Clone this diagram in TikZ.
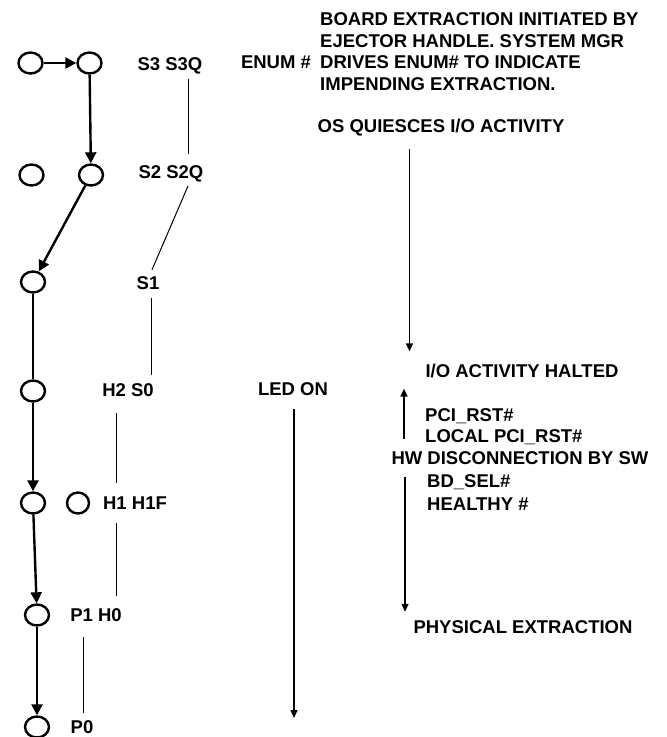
\documentclass[tikz,border=0pt]{standalone}
\usepackage{fontspec}
\setmainfont{Liberation Sans}
\usetikzlibrary{arrows.meta,shapes.geometric}

\begin{document}
\begin{tikzpicture}[x=1pt,y=-1pt,
        state/.style={ellipse,draw,line width=2.4pt,minimum width=24pt,minimum height=21pt,inner sep=0pt},
        spare/.style={state,minimum width=22pt},
        lbl/.style={font=\fontsize{18.5}{21.7}\selectfont\bfseries,inner sep=0pt},
        step edge/.style={-{Triangle[length=11pt,width=11pt]},line width=2.4pt},
        timeline/.style={line width=1pt},
        event/.style={-{Triangle[length=8pt,width=7pt]},line width=1.5pt}]
    \useasboundingbox (0,0) rectangle (667,737);

    % state circles
    \node[state] (s3) at (30.5,63) {};
    \node[state] (s3q) at (89.5,63) {};
    \node[state] (s2) at (31.5,175) {};
    \node[state] (s2q) at (91,175) {};
    \node[state] (s1) at (33,282) {};
    \node[state] (s0) at (33,391) {};
    \node[state] (h1) at (33,503) {};
    \node[spare] (h1f) at (78,503) {};
    \node[state] (h0) at (37,615) {};
    \node[state] (p0) at (37,727) {};

    \path (s3) edge[step edge] (s3q)
          (s3q) edge[step edge] (s2q)
          (s2q) edge[step edge] (s1)
          (s1) edge[line width=2.4pt] (s0)
          (s0) edge[step edge] (h1)
          (h1) edge[step edge] (h0)
          (h0) edge[step edge] (p0);

    % state names
    \node[lbl] (ls3) at (170,66) {S3 S3Q};
    \node[lbl] (ls2) at (171,174) {S2 S2Q};
    \node[lbl] (ls1) at (148,283) {S1};
    \node[lbl] (lh2) at (128,390) {H2 S0};
    \node[lbl] (lh1) at (135,503) {H1 H1F};
    \node[lbl] (lp1) at (96,615) {P1 H0};
    \node[lbl] (lp0) at (82,727) {P0};

    \draw[timeline] ([xshift=18pt,yshift=-4.5pt]ls3.south) -- ([xshift=17pt,yshift=11.5pt]ls2.north);
    \draw[timeline] ([xshift=17pt,yshift=-3.5pt]ls2.south) -- ([xshift=4pt,yshift=6.5pt]ls1.north);
    \draw[timeline] ([xshift=3pt,yshift=-8.5pt]ls1.south) -- ([xshift=23pt,yshift=8.5pt]lh2.north);
    \draw[timeline] ([xshift=-12pt,yshift=-16.5pt]lh2.south) -- ([xshift=-19pt,yshift=13.5pt]lh1.north);
    \draw[timeline] ([xshift=-19pt,yshift=-13.5pt]lh1.south) -- ([xshift=20pt,yshift=12.5pt]lp1.north);
    \draw[timeline] ([xshift=-13pt,yshift=-15.5pt]lp1.south) -- ([xshift=1pt,yshift=7.5pt]lp0.north);

    % events
    \node[lbl] (enum) at (276,62) {ENUM \#};
    \node[lbl,align=left,anchor=west] (board) at (320,51.5)
        {BOARD EXTRACTION INITIATED BY\\EJECTOR HANDLE. SYSTEM MGR\\DRIVES ENUM\# TO INDICATE\\IMPENDING EXTRACTION.};
    \node[lbl] (quiesce) at (441,128) {OS QUIESCES I/O ACTIVITY};
    \node[lbl] (halted) at (522,371) {I/O ACTIVITY HALTED};
    \node[lbl,anchor=west] (pcirst) at (425,416) {PCI\_RST\#};
    \node[lbl,anchor=west] (localrst) at (425,437) {LOCAL PCI\_RST\#};
    \node[lbl] (hwdisc) at (520,458) {HW DISCONNECTION BY SW};
    \node[lbl,anchor=west] (bdsel) at (427,482) {BD\_SEL\#};
    \node[lbl,anchor=west] (healthy) at (427,504) {HEALTHY \#};
    \node[lbl] (physical) at (523,627) {PHYSICAL EXTRACTION};
    \node[lbl] (led) at (293,389) {LED ON};
    \coordinate (ledend) at (294,718);

    \draw[event] ([xshift=-31.5pt,yshift=-12.5pt]quiesce.south) -- ([xshift=-112.5pt,yshift=12.5pt]halted.north);
    \draw[event] ([xshift=-21pt,yshift=-2pt]localrst.west) -- ([xshift=-118pt,yshift=-10.5pt]halted.south);
    \draw[event] ([xshift=-115pt,yshift=-12.5pt]hwdisc.south) -- ([xshift=-118pt,yshift=8.5pt]physical.north);
    \draw[event] ([xshift=1pt,yshift=-13.5pt]led.south) -- (ledend);
\end{tikzpicture}
\end{document}
